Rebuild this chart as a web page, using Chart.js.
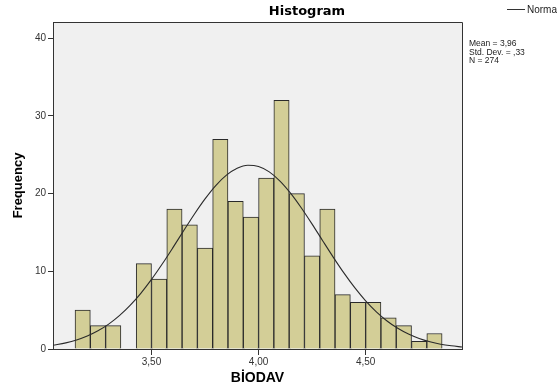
<!DOCTYPE html>
<html>
<head>
<meta charset="utf-8">
<script src="https://cdn.jsdelivr.net/npm/chart.js@4.4.1/dist/chart.umd.min.js"></script>
<style>
  html, body { margin: 0; padding: 0; background: #ffffff; }
  canvas { display: block; }
</style>
</head>
<body>
<canvas id="c" width="557" height="387"></canvas>
<script>
// ---- data ----
const binCenters = [3.1786, 3.25, 3.3214, 3.3929, 3.4643, 3.5357, 3.6071, 3.6786, 3.75, 3.8214, 3.8929, 3.9643,
                    4.0357, 4.1071, 4.1786, 4.25, 4.3214, 4.3929, 4.4643, 4.5357, 4.6071, 4.6786, 4.75, 4.8214];
const counts = [5, 3, 3, 0, 11, 9, 18, 16, 13, 27, 19, 17, 22, 32, 20, 12, 18, 7, 6, 6, 4, 3, 1, 2];

const curveX = [3.04, 3.10, 3.15, 3.20, 3.25, 3.30, 3.35, 3.40, 3.45, 3.50, 3.55, 3.60, 3.65, 3.70, 3.75, 3.80,
                3.85, 3.90, 3.95, 4.00, 4.05, 4.10, 4.15, 4.20, 4.25, 4.30, 4.35, 4.40, 4.45, 4.50, 4.55, 4.60,
                4.65, 4.70, 4.75, 4.80, 4.85, 4.90, 4.95];
const curveY = [0.49, 0.79, 1.16, 1.67, 2.34, 3.20, 4.29, 5.61, 7.17, 8.96, 10.94, 13.05, 15.22, 17.35, 19.32, 21.04,
                22.38, 23.27, 23.65, 23.49, 22.80, 21.62, 20.04, 18.16, 16.08, 13.91, 11.77, 9.73, 7.86, 6.20, 4.79, 3.61,
                2.66, 1.92, 1.35, 0.93, 0.62, 0.41, 0.26];

const xTickValues = [3.5, 4.0, 4.5];
const xTickLabels = ['3,50', '4,00', '4,50'];
const yTickValues = [0, 10, 20, 30, 40];

const titleText = 'Histogram';
const xTitle = 'BİODAV';
const yTitle = 'Frequency';
const legendLabel = 'Normal';
const statsLines = ['Mean = 3,96', 'Std. Dev. = ,33', 'N = 274'];

// ---- plugins ----
const framePlugin = {
  id: 'frame',
  beforeDraw(chart) {
    const ctx = chart.ctx, a = chart.chartArea;
    ctx.save();
    ctx.fillStyle = '#ffffff';
    ctx.fillRect(0, 0, chart.width, chart.height);
    ctx.fillStyle = '#F0F0F0';
    ctx.fillRect(a.left, a.top, a.right - a.left, a.bottom - a.top);
    ctx.restore();
  },
  afterDraw(chart) {
    const ctx = chart.ctx, a = chart.chartArea;
    ctx.save();
    ctx.strokeStyle = '#333333';
    ctx.lineWidth = 1;
    ctx.beginPath();
    ctx.moveTo(Math.round(a.left) + 0.5, Math.round(a.top) + 0.5);
    ctx.lineTo(Math.round(a.right) + 0.5, Math.round(a.top) + 0.5);
    ctx.lineTo(Math.round(a.right) + 0.5, Math.round(a.bottom) + 0.5);
    ctx.stroke();

    // title
    ctx.fillStyle = '#000000';
    ctx.font = 'bold 13px "DejaVu Sans", Arial, sans-serif';
    ctx.textAlign = 'center';
    ctx.textBaseline = 'middle';
    ctx.fillText(titleText, 307, 12);

    // legend (clipped by the right edge, as in the reference)
    ctx.strokeStyle = '#333333';
    ctx.beginPath();
    ctx.moveTo(507, 9.5);
    ctx.lineTo(525, 9.5);
    ctx.stroke();
    ctx.font = '10px Arial, "Liberation Sans", sans-serif';
    ctx.textAlign = 'left';
    ctx.fillStyle = '#222222';
    ctx.fillText(legendLabel, 527, 10);

    // statistics
    ctx.font = '8.5px Arial, "Liberation Sans", sans-serif';
    statsLines.forEach((t, i) => ctx.fillText(t, 469, 44 + i * 8.5));
    ctx.restore();
  }
};

const tickFont = { family: 'Arial, "Liberation Sans", sans-serif', size: 10 };

new Chart(document.getElementById('c'), {
  data: {
    datasets: [
      {
        type: 'line',
        label: legendLabel,
        data: curveX.map((x, i) => ({ x: x, y: curveY[i] })),
        borderColor: '#2a2a2a',
        borderWidth: 1.1,
        pointRadius: 0,
        tension: 0.4,
        cubicInterpolationMode: 'monotone',
        order: 0
      },
      {
        type: 'bar',
        label: 'BİODAV',
        data: binCenters.map((x, i) => ({ x: x, y: counts[i] })),
        backgroundColor: '#D3CE97',
        borderColor: '#2a2a2a',
        borderWidth: 1,
        barPercentage: 1,
        categoryPercentage: 1,
        order: 1
      }
    ]
  },
  options: {
    responsive: false,
    animation: false,
    layout: { padding: { top: 22, right: 95, left: 0, bottom: 0 } },
    plugins: { legend: { display: false }, title: { display: false }, tooltip: { enabled: false } },
    scales: {
      x: {
        type: 'linear',
        min: 3.04,
        max: 4.95,
        offset: false,
        afterBuildTicks: s => { s.ticks = xTickValues.map(v => ({ value: v })); },
        afterFit: s => { s.height = 38; },
        ticks: {
          autoSkip: false, maxRotation: 0, padding: 1,
          color: '#333333', font: tickFont,
          callback: v => xTickLabels[xTickValues.indexOf(v)]
        },
        grid: { offset: false, drawOnChartArea: false, drawTicks: true, tickLength: 6, color: '#333333' },
        border: { display: true, color: '#333333' },
        title: {
          display: true, text: xTitle, color: '#000000',
          font: { family: 'Arial, "Liberation Sans", sans-serif', size: 14, weight: 'bold' },
          padding: { top: 0, bottom: 0 }
        }
      },
      y: {
        type: 'linear',
        min: 0,
        max: 42.1,
        afterBuildTicks: s => { s.ticks = yTickValues.map(v => ({ value: v })); },
        afterFit: s => { s.width = 53; },
        ticks: { padding: 2, color: '#333333', font: tickFont },
        grid: { drawOnChartArea: false, drawTicks: true, tickLength: 5, color: '#333333' },
        border: { display: true, color: '#333333' },
        title: {
          display: true, text: yTitle, color: '#000000',
          font: { family: 'Arial, "Liberation Sans", sans-serif', size: 13, weight: 'bold' },
          padding: { top: 11, bottom: 0 }
        }
      }
    }
  },
  plugins: [framePlugin]
});
</script>
</body>
</html>
